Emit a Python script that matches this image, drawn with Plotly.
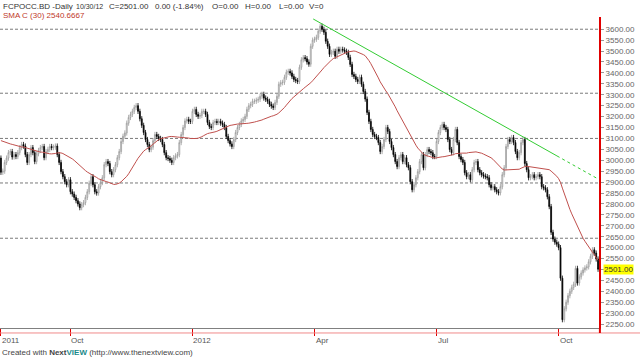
import pandas as pd
import plotly.graph_objects as go

# ---------------- data ----------------
# closes before the visible window (only used to seed the 30-day SMA)
prior_close = [3060, 3085, 3110, 3125, 3100, 3080, 3095, 3120, 3140, 3115,
               3090, 3075, 3100, 3130, 3120, 3095, 3080, 3105, 3125, 3110,
               3090, 3070, 3095, 3115, 3100, 3085, 3070, 3060, 3010]

# daily closes, 11 Aug 2011 .. 30 Oct 2012
close = [2945, 2950, 2990, 3010, 3035, 3040, 3015, 3026, 3017, 3035,
         3058, 3072, 3065, 3026, 2990, 3026, 3058, 3035, 2994, 3030,
         3045, 3058, 3063, 3012, 3040, 3050, 3063, 3058, 3060, 3065,
         3026, 2990, 2948, 2925, 2902, 2888, 2911, 2856, 2845, 2830,
         2815, 2800, 2783, 2797, 2806, 2830, 2856, 2895, 2925, 2888,
         2856, 2850, 2879, 2898, 2920, 2980, 2994, 2985, 2948, 2934,
         2957, 2980, 3012, 3040, 3086, 3110, 3125, 3170, 3196, 3210,
         3224, 3242, 3250, 3224, 3190, 3160, 3127, 3095, 3072, 3049,
         3060, 3090, 3118, 3109, 3100, 3095, 3072, 3035, 3012, 3008,
         3000, 2990, 3012, 3020, 3026, 3081, 3118, 3150, 3180, 3187,
         3178, 3178, 3224, 3233, 3210, 3201, 3205, 3224, 3224, 3210,
         3173, 3155, 3150, 3173, 3178, 3173, 3178, 3170, 3164, 3150,
         3109, 3090, 3075, 3063, 3095, 3127, 3150, 3164, 3180, 3187,
         3201, 3233, 3250, 3256, 3270, 3270, 3275, 3279, 3293, 3302,
         3285, 3279, 3270, 3256, 3248, 3242, 3265, 3293, 3348, 3355,
         3357, 3380, 3403, 3407, 3400, 3384, 3370, 3365, 3361, 3426,
         3460, 3470, 3465, 3450, 3440, 3522, 3550, 3554, 3563, 3591,
         3614, 3600, 3586, 3545, 3522, 3485, 3494, 3499, 3476, 3508,
         3499, 3508, 3505, 3499, 3494, 3471, 3439, 3393, 3384, 3370,
         3361, 3380, 3348, 3315, 3280, 3219, 3178, 3141, 3118, 3109,
         3104, 3081, 3040, 3063, 3095, 3150, 3132, 3086, 3058, 3026,
         2994, 2971, 3012, 3026, 2994, 3012, 2980, 2966, 2902, 2865,
         2888, 2920, 2948, 2994, 3026, 2966, 3026, 3049, 3040, 3035,
         3017, 3017, 3086, 3127, 3150, 3164, 3150, 3141, 3095, 3049,
         3035, 3095, 3141, 3081, 3017, 3003, 2990, 2943, 2925, 2934,
         2911, 2957, 2990, 2994, 2957, 2943, 2934, 2928, 2925, 2920,
         2888, 2874, 2879, 2865, 2856, 2851, 2879, 2934, 2966, 3063,
         3095, 3086, 3104, 3081, 3040, 3012, 3035, 3081, 3095, 2985,
         2957, 2920, 2925, 2934, 2920, 2925, 2934, 2925, 2879, 2874,
         2865, 2833, 2788, 2670, 2639, 2625, 2616, 2600, 2460, 2270,
         2320, 2350, 2380, 2400, 2418, 2432, 2505, 2438, 2466, 2484,
         2498, 2507, 2512, 2535, 2560, 2590, 2575, 2548, 2501]

wick = 12  # shadow length above/below the candle body

levels = [3600, 3307, 3100, 2896, 2643]          # dotted horizontal lines
trend_x = [166.3, 296.1, 317.9]                  # trend line anchors (bar index)
trend_y = [3647, 3020, 2915]
y_ticks = list(range(2250, 3650, 50))
x_tick_months = [(2011, 10, "Oct"), (2012, 1, "2012"), (2012, 4, "Apr"),
                 (2012, 7, "Jul"), (2012, 10, "Oct")]
last_price = 2501

# ---------------- derived series ----------------
dates = pd.bdate_range("2011-08-11", "2012-10-30")[:len(close)]
n = len(close)
xs = list(range(n))
opens = [prior_close[-1]] + close[:-1]
highs = [max(o, c) + wick for o, c in zip(opens, close)]
lows = [min(o, c) - wick for o, c in zip(opens, close)]

all_close = prior_close + close
sma = pd.Series(all_close).rolling(30).mean()
sma_x = list(range(-len(prior_close), n))

tick_idx = [0]
tick_lab = ["2011"]
for (yy, mm, lab) in x_tick_months:
    pos = [i for i, d in enumerate(dates) if d.year == yy and d.month == mm]
    if pos:
        tick_idx.append(pos[0])
        tick_lab.append(lab)

FONT = "Liberation Sans, Arial, sans-serif"

fig = go.Figure()
fig.add_trace(go.Scatter(x=sma_x, y=sma, mode="lines",
                         line=dict(color="#c0504d", width=1), hoverinfo="skip"))
fig.add_trace(go.Candlestick(
    x=xs, open=opens, high=highs, low=lows, close=close,
    increasing=dict(line=dict(color="#9a9a9a", width=0.8), fillcolor="white"),
    decreasing=dict(line=dict(color="black", width=0.8), fillcolor="black"),
    whiskerwidth=0))
fig.add_trace(go.Scatter(x=trend_x[:2], y=trend_y[:2], mode="lines",
                         line=dict(color="#33cc33", width=1), hoverinfo="skip"))
fig.add_trace(go.Scatter(x=trend_x[1:], y=trend_y[1:], mode="lines",
                         line=dict(color="#33cc33", width=1, dash="3px,3px"),
                         hoverinfo="skip"))

shapes = []
for lv in levels:
    shapes.append(dict(type="line", xref="paper", x0=0, x1=1, yref="y", y0=lv, y1=lv,
                       line=dict(color="#7a7a7a", width=1, dash="3px,2px"), layer="below"))
# lower red axis rule and extension of the right axis
shapes.append(dict(type="line", xref="paper", x0=0, x1=1.07, yref="paper",
                   y0=-0.016, y1=-0.016, line=dict(color="#f08a8a", width=1)))
shapes.append(dict(type="line", xref="paper", x0=1.0015, x1=1.0015, yref="paper",
                   y0=-0.016, y1=0.0, line=dict(color="#e00000", width=2)))

H = 311.0
def py(pix):  # pixel row -> paper y
    return (328 - pix) / H
def px(pix):
    return pix / 599.0

ann = []
header = [(1, "FCPOCC.BD -Daily", 8), (74, "10/30/12", 7), (107, "C=2501.00", 8),
          (153, "0.00 (-1.84%)", 8), (210, "O=0.00", 8), (243, "H=0.00", 8),
          (277, "L=0.00", 8), (307, "V=0", 8)]
for xpix, t, fs in header:
    ann.append(dict(text=t, xref="paper", yref="paper", x=px(xpix), y=py(6.5),
                    xanchor="left", yanchor="middle", showarrow=False,
                    font=dict(family=FONT, size=fs, color="#333333")))
ann.append(dict(text="SMA C (30) 2540.6667", xref="paper", yref="paper", x=px(1), y=py(15.5),
                xanchor="left", yanchor="middle", showarrow=False,
                font=dict(family=FONT, size=8, color="#c0392b")))
for ti, tl in zip(tick_idx, tick_lab):
    ann.append(dict(text=tl, xref="x", yref="paper", x=ti, y=py(340.5),
                    xanchor="left", yanchor="middle", showarrow=False, xshift=-1,
                    font=dict(family=FONT, size=8, color="#555555")))
ann.append(dict(text="Created with <b>Next</b><b><span style='color:#1a8a8a'>VIEW</span></b> (http://www.thenextview.com)",
                xref="paper", yref="paper", x=0, y=py(352.5), xanchor="left", yanchor="middle",
                showarrow=False, font=dict(family=FONT, size=8, color="#444444")))
ann.append(dict(text=f"{last_price:.2f}", xref="paper", yref="y", x=1, y=last_price,
                xanchor="left", yanchor="middle", xshift=4, showarrow=False,
                bgcolor="#ffff00", borderpad=0,
                font=dict(family=FONT, size=8, color="#333333")))

# the 2500 label sits under the highlighted last-price box in the reference
y_text = ["" if v == 2500 else f"{v:.2f}" for v in y_ticks]

fig.update_layout(
    width=640, height=357,
    margin=dict(l=0, r=41, t=17, b=29, autoexpand=False),
    paper_bgcolor="white", plot_bgcolor="white",
    showlegend=False,
    shapes=shapes, annotations=ann,
    xaxis=dict(range=[-0.5, n - 0.5], rangeslider=dict(visible=False),
               showgrid=False, zeroline=False, showline=True, linecolor="#808080",
               linewidth=1, ticks="outside", ticklen=7, tickcolor="#e00000",
               tickwidth=1, tickvals=tick_idx, showticklabels=False, automargin=False),
    yaxis=dict(side="right", range=[2232, 3656], showgrid=False, zeroline=False,
               showline=True, linecolor="#e00000", linewidth=2,
               ticks="outside", ticklen=3, tickcolor="#999999",
               tickvals=y_ticks, ticktext=y_text, automargin=False,
               tickfont=dict(family=FONT, size=8, color="#666666")),
)

fig.write_html("out.html", config={"displayModeBar": False},
               post_script="document.body.style.margin='0';document.body.style.overflow='hidden';")
